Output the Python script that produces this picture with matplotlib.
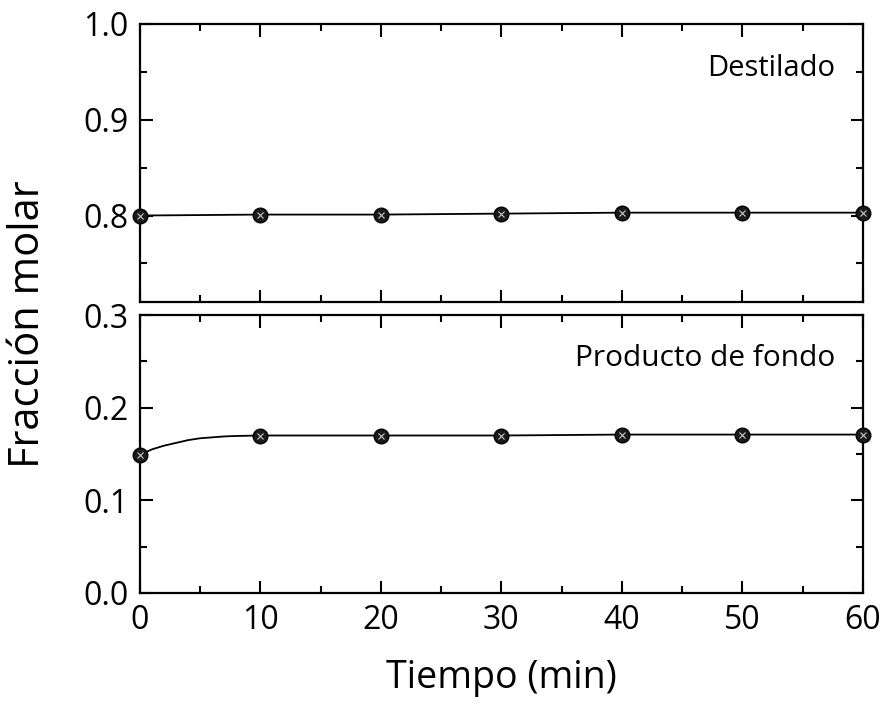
import numpy as np
import matplotlib
matplotlib.use("Agg")
import matplotlib.pyplot as plt
from matplotlib.ticker import MultipleLocator

plt.rcParams["font.family"] = ["Open Sans", "DejaVu Sans"]

# muestras cada 10 min
t_pts = [0, 10, 20, 30, 40, 50, 60]
x_dest = [0.800, 0.801, 0.801, 0.802, 0.803, 0.803, 0.803]
x_fondo = [0.149, 0.170, 0.170, 0.170, 0.171, 0.171, 0.171]

# curva de simulacion
t_dest = [0, 10, 20, 30, 40, 50, 60]
y_dest = [0.800, 0.801, 0.801, 0.802, 0.803, 0.803, 0.803]
t_fondo = [0, 1, 2, 3, 4, 5, 6, 7, 8, 10, 20, 30, 40, 50, 60]
y_fondo = [0.149, 0.155, 0.159, 0.162, 0.165, 0.167, 0.168, 0.169, 0.1695,
           0.170, 0.170, 0.170, 0.171, 0.171, 0.171]

fig = plt.figure(figsize=(8.85, 7.05), dpi=100)
ax1 = fig.add_axes([0.158, 0.572, 0.817, 0.394])
ax2 = fig.add_axes([0.158, 0.159, 0.817, 0.394])


def style(ax):
    for s in ax.spines.values():
        s.set_linewidth(1.6)
    ax.xaxis.set_major_locator(MultipleLocator(10))
    ax.xaxis.set_minor_locator(MultipleLocator(5))
    ax.yaxis.set_major_locator(MultipleLocator(0.1))
    ax.yaxis.set_minor_locator(MultipleLocator(0.05))
    ax.tick_params(which="both", direction="in", top=True, right=True,
                   width=1.5, labelsize=23)
    ax.tick_params(which="major", length=9, pad=8)
    ax.tick_params(which="minor", length=5)
    ax.set_xlim(0, 60)


def draw(ax, tc, yc, tp, yp):
    ax.plot(tc, yc, color="black", lw=1.3, zorder=2)
    ax.plot(tp, yp, linestyle="none", marker="o", ms=10.5, mfc="#1a1a1a",
            mec="black", mew=1.0, clip_on=False, zorder=3)
    ax.plot(tp, yp, linestyle="none", marker="x", ms=4, mec="#c8c8c8",
            mew=0.8, clip_on=False, zorder=4)


draw(ax1, t_dest, y_dest, t_pts, x_dest)
draw(ax2, t_fondo, y_fondo, t_pts, x_fondo)

style(ax1)
ax1.set_ylim(0.71, 1.0)
ax1.tick_params(labelbottom=False)
ax1.yaxis.set_major_formatter(plt.FuncFormatter(lambda v, p: f"{v:.1f}"))
ax1.text(0.962, 0.84, "Destilado", transform=ax1.transAxes,
         ha="right", va="center", fontsize=21)

style(ax2)
ax2.set_ylim(0.0, 0.3)
ax2.yaxis.set_major_formatter(plt.FuncFormatter(lambda v, p: f"{v:.1f}"))
ax2.text(0.962, 0.845, "Producto de fondo", transform=ax2.transAxes,
         ha="right", va="center", fontsize=21.5)

fig.text(0.032, 0.540, "Fracción molar", rotation=90, ha="center",
         va="center", fontsize=30)
fig.text(0.566, 0.039, "Tiempo (min)", ha="center", va="center", fontsize=27)

fig.savefig("out.png", dpi=100)
